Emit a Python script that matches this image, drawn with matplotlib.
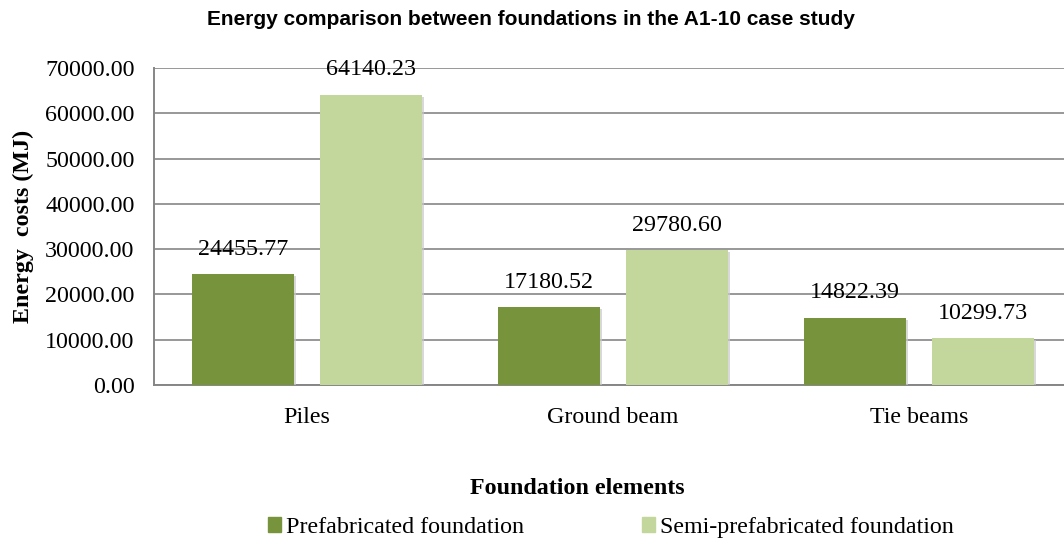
import numpy as np
import matplotlib.pyplot as plt
import matplotlib.patheffects as pe
from matplotlib.patches import Patch

categories = ["Piles", "Ground beam", "Tie beams"]
prefab = [24455.77, 17180.52, 14822.39]
semi_prefab = [64140.23, 29780.60, 10299.73]
yticks = [0, 10000, 20000, 30000, 40000, 50000, 60000, 70000]

serif = "Liberation Serif"
fs = 17.3
dark = "#77933C"
light = "#C3D69B"
axcol = "#868686"

fig = plt.figure(figsize=(10.64, 5.45), dpi=100)
# the plot area runs a little past the right edge of the figure
ax = fig.add_axes([0.1447, 0.2936, 0.8628, 0.5816])

x = np.arange(len(categories))
w = 0.333
off = 0.209
shadow = [pe.SimplePatchShadow(offset=(1.5, -1.5), shadow_rgbFace="#c8c8c8", alpha=0.7), pe.Normal()]
b1 = ax.bar(x - off, prefab, w, color=dark, zorder=3, path_effects=shadow)
b2 = ax.bar(x + off, semi_prefab, w, color=light, zorder=3, path_effects=shadow)

for bars, vals in ((b1, prefab), (b2, semi_prefab)):
    for rect, v in zip(bars, vals):
        ax.annotate(f"{v:.2f}", (rect.get_x() + rect.get_width() / 2, v),
                    xytext=(0, 25), textcoords="offset pixels", ha="center", va="center",
                    fontsize=fs, family=serif, zorder=4)

ax.set_xlim(-0.5, 2.5)
ax.set_ylim(0, 70000)
ax.set_yticks(yticks)
ax.set_yticklabels([f"{t:.2f}" for t in yticks], family=serif, fontsize=fs)
ax.set_xticks(x)
ax.set_xticklabels(categories, family=serif, fontsize=fs)
ax.tick_params(axis="y", length=0, pad=14)
ax.tick_params(axis="x", length=0, pad=16)
ax.grid(axis="y", color=axcol, linewidth=1.2, zorder=0)
for s in ("top", "right"):
    ax.spines[s].set_visible(False)
for s in ("left", "bottom"):
    ax.spines[s].set_color(axcol)
    ax.spines[s].set_linewidth(1.4)

ax.set_ylabel("Energy  costs (MJ)", family=serif, fontsize=fs, fontweight="bold", labelpad=8)
fig.text(0.543, 0.103, "Foundation elements", family=serif, fontsize=fs, fontweight="bold",
         ha="center", va="center")
fig.text(0.499, 0.965, "Energy comparison between foundations in the A1-10 case study",
         family="Liberation Sans", fontsize=15, fontweight="bold", ha="center", va="center")

handles = [Patch(color=dark, label="Prefabricated foundation"),
           Patch(color=light, label="Semi-prefabricated foundation")]
fig.legend(handles=handles, loc="center", bbox_to_anchor=(0.574, 0.032), ncol=2, frameon=False,
           prop={"family": serif, "size": fs}, handlelength=0.55, handleheight=0.55,
           handletextpad=0.2, columnspacing=4.9)

fig.savefig("out.png", dpi=100)
